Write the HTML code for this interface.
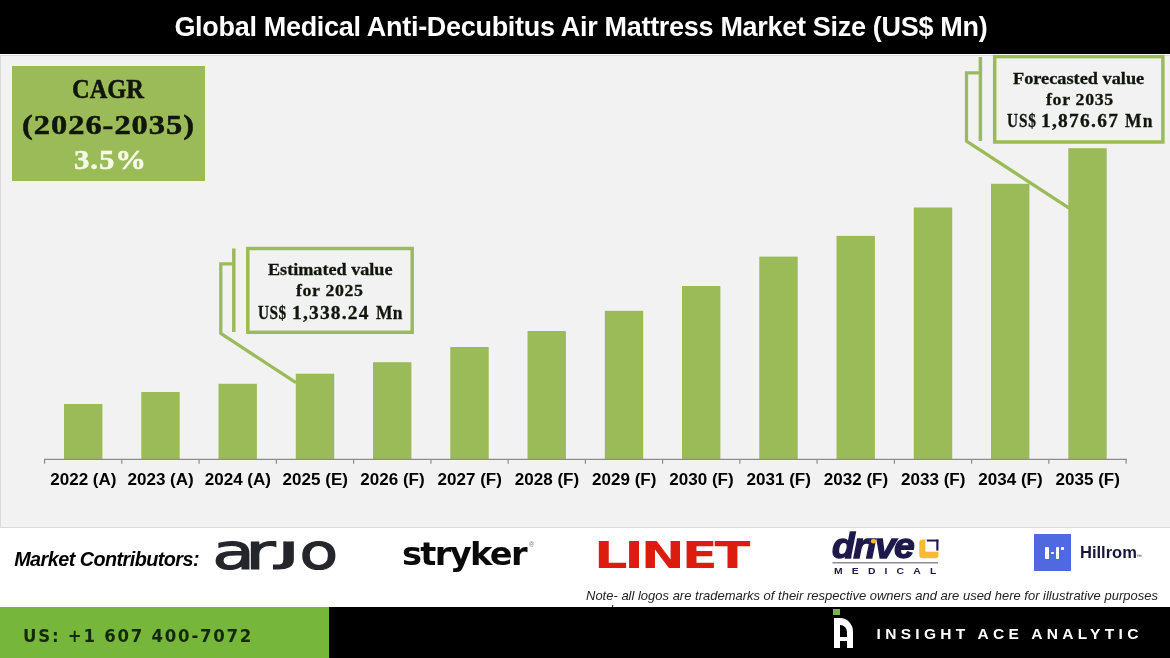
<!DOCTYPE html>
<html lang="en"><head><meta charset="utf-8"><title>Global Medical Anti-Decubitus Air Mattress Market Size (US$ Mn)</title>
<style>
html,body{margin:0;padding:0;background:#fff;}
body{width:1170px;height:658px;overflow:hidden;position:relative;font-family:"Liberation Sans",sans-serif;}
#page{position:absolute;left:0;top:0;width:1170px;height:658px;overflow:hidden;background:#fff;}
/* every box below is absolutely positioned against #page */
header,main,section,footer,figure{margin:0;padding:0;display:block;}
.t{position:absolute;white-space:nowrap;transform-origin:0 0;margin:0;padding:0;}
#hdr{position:absolute;left:0;top:0;width:1170px;height:53.6px;background:#000;}
#chartbg{position:absolute;left:0;top:55.2px;width:1175px;height:472.8px;background:#f2f2f2;border:1px solid #dadada;box-sizing:border-box;}
#plot,#logo-art{position:absolute;left:0;top:0;overflow:visible;}
#cagr{position:absolute;left:12px;top:66px;width:193px;height:115px;background:#9bbb59;}
#foot-g{position:absolute;left:0;top:607.4px;width:329px;height:51px;background:#76b63a;}
#foot-b{position:absolute;left:329px;top:607.4px;width:841px;height:51px;background:#000;}
#hill-mark{position:absolute;left:1034px;top:534px;width:37.2px;height:36.8px;background:#4f6ae0;}
#hill-mark i{position:absolute;background:#fff;border-radius:0.7px;}
#ia{position:absolute;left:833.5px;top:618px;width:7.3px;height:23.2px;border-style:solid;border-color:#fff;border-width:7.7px 6.1px 0 6.1px;border-top-right-radius:13px 14px;}
#ia-bar{position:absolute;left:838px;top:636.6px;width:10px;height:4.1px;background:#fff;}
#ia-dot{position:absolute;left:833.3px;top:609px;width:6.9px;height:5.9px;background:#79b548;}
#arjo{position:absolute;white-space:nowrap;color:#25262b;-webkit-text-stroke:1.2px #25262b;}
#arjo span{display:inline-block;transform-origin:0 0;}
#drivedot{position:absolute;left:863px;top:529px;}
</style></head><body><div id="page">

<header>
<div id="hdr"></div>
<div class="t" id="title" style="left:174.40px;top:11.60px;font-family:'Liberation Sans', sans-serif;font-size:27px;line-height:30px;color:#fff;font-weight:bold;letter-spacing:-0.304px;">Global Medical Anti-Decubitus Air Mattress Market Size (US$ Mn)</div>
</header>

<main>
<section id="chart">
<div id="chartbg"></div>
<svg id="plot" width="1170" height="658" viewBox="0 0 1170 658">
<g id="bars" fill="#9bbb59"><rect x="64.0" y="404.0" width="38.4" height="55.3"/><rect x="141.3" y="392.0" width="38.4" height="67.3"/><rect x="218.5" y="383.8" width="38.4" height="75.5"/><rect x="295.8" y="373.7" width="38.4" height="85.6"/><rect x="373.0" y="362.2" width="38.4" height="97.1"/><rect x="450.3" y="347.0" width="38.4" height="112.3"/><rect x="527.5" y="331.0" width="38.4" height="128.3"/><rect x="604.8" y="310.8" width="38.4" height="148.5"/><rect x="682.0" y="286.0" width="38.4" height="173.3"/><rect x="759.3" y="256.6" width="38.4" height="202.7"/><rect x="836.5" y="235.9" width="38.4" height="223.4"/><rect x="913.8" y="207.5" width="38.4" height="251.8"/><rect x="991.0" y="183.8" width="38.4" height="275.5"/><rect x="1068.3" y="148.2" width="38.4" height="311.1"/></g>
<g id="axis" stroke="#8c8c8c" stroke-width="1.2"><line x1="44" y1="459.3" x2="1127" y2="459.3"/><line x1="44.6" y1="459.3" x2="44.6" y2="463.8"/><line x1="121.8" y1="459.3" x2="121.8" y2="463.8"/><line x1="199.1" y1="459.3" x2="199.1" y2="463.8"/><line x1="276.4" y1="459.3" x2="276.4" y2="463.8"/><line x1="353.6" y1="459.3" x2="353.6" y2="463.8"/><line x1="430.9" y1="459.3" x2="430.9" y2="463.8"/><line x1="508.1" y1="459.3" x2="508.1" y2="463.8"/><line x1="585.4" y1="459.3" x2="585.4" y2="463.8"/><line x1="662.6" y1="459.3" x2="662.6" y2="463.8"/><line x1="739.9" y1="459.3" x2="739.9" y2="463.8"/><line x1="817.1" y1="459.3" x2="817.1" y2="463.8"/><line x1="894.4" y1="459.3" x2="894.4" y2="463.8"/><line x1="971.6" y1="459.3" x2="971.6" y2="463.8"/><line x1="1048.8" y1="459.3" x2="1048.8" y2="463.8"/><line x1="1126.1" y1="459.3" x2="1126.1" y2="463.8"/></g>
<g id="callout-2025" fill="none" stroke="#9bbb59" stroke-width="3.5">
<rect x="247.8" y="248.5" width="164.4" height="83.8" fill="#f2f2f2"/>
<line x1="233.8" y1="248.5" x2="233.8" y2="332"/>
<polyline stroke-width="3.3" points="232,263.8 220.8,263.8 220.8,333.4 296,382.6"/>
</g>
<g id="callout-2035" fill="none" stroke="#9bbb59" stroke-width="3.5">
<rect x="994.7" y="56.6" width="168.2" height="85.4" fill="#f2f2f2"/>
<line x1="980.4" y1="57" x2="980.4" y2="141"/>
<polyline stroke-width="3.3" points="979,72.8 966.5,72.8 966.5,141.2 1069.5,208.3"/>
</g>
</svg>
<div id="xlabels">
<div class="t" style="left:50.25px;top:469.91px;font-family:'Liberation Sans', sans-serif;font-size:17.05px;line-height:19px;color:#000;font-weight:bold;">2022 (A)</div>
<div class="t" style="left:127.50px;top:469.91px;font-family:'Liberation Sans', sans-serif;font-size:17.05px;line-height:19px;color:#000;font-weight:bold;">2023 (A)</div>
<div class="t" style="left:204.75px;top:469.91px;font-family:'Liberation Sans', sans-serif;font-size:17.05px;line-height:19px;color:#000;font-weight:bold;">2024 (A)</div>
<div class="t" style="left:282.60px;top:469.91px;font-family:'Liberation Sans', sans-serif;font-size:17.05px;line-height:19px;color:#000;font-weight:bold;">2025 (E)</div>
<div class="t" style="left:360.33px;top:469.91px;font-family:'Liberation Sans', sans-serif;font-size:17.05px;line-height:19px;color:#000;font-weight:bold;">2026 (F)</div>
<div class="t" style="left:437.58px;top:469.91px;font-family:'Liberation Sans', sans-serif;font-size:17.05px;line-height:19px;color:#000;font-weight:bold;">2027 (F)</div>
<div class="t" style="left:514.83px;top:469.91px;font-family:'Liberation Sans', sans-serif;font-size:17.05px;line-height:19px;color:#000;font-weight:bold;">2028 (F)</div>
<div class="t" style="left:592.08px;top:469.91px;font-family:'Liberation Sans', sans-serif;font-size:17.05px;line-height:19px;color:#000;font-weight:bold;">2029 (F)</div>
<div class="t" style="left:669.33px;top:469.91px;font-family:'Liberation Sans', sans-serif;font-size:17.05px;line-height:19px;color:#000;font-weight:bold;">2030 (F)</div>
<div class="t" style="left:746.58px;top:469.91px;font-family:'Liberation Sans', sans-serif;font-size:17.05px;line-height:19px;color:#000;font-weight:bold;">2031 (F)</div>
<div class="t" style="left:823.83px;top:469.91px;font-family:'Liberation Sans', sans-serif;font-size:17.05px;line-height:19px;color:#000;font-weight:bold;">2032 (F)</div>
<div class="t" style="left:901.08px;top:469.91px;font-family:'Liberation Sans', sans-serif;font-size:17.05px;line-height:19px;color:#000;font-weight:bold;">2033 (F)</div>
<div class="t" style="left:978.33px;top:469.91px;font-family:'Liberation Sans', sans-serif;font-size:17.05px;line-height:19px;color:#000;font-weight:bold;">2034 (F)</div>
<div class="t" style="left:1055.58px;top:469.91px;font-family:'Liberation Sans', sans-serif;font-size:17.05px;line-height:19px;color:#000;font-weight:bold;">2035 (F)</div>
</div>
<div id="cagr"></div>
<div class="t" style="left:71.73px;top:73.41px;font-family:'Liberation Serif', serif;font-size:28px;line-height:31px;color:#10160c;font-weight:bold;transform:scaleX(0.8727);-webkit-text-stroke:0.5px #10160c;">CAGR</div>
<div class="t" style="left:22.29px;top:108.50px;font-family:'Liberation Serif', serif;font-size:28px;line-height:31px;color:#10160c;font-weight:bold;transform:scaleX(1.1600);letter-spacing:0.833px;-webkit-text-stroke:0.5px #10160c;">(2026-2035)</div>
<div class="t" style="left:73.50px;top:144.21px;font-family:'Liberation Serif', serif;font-size:28px;line-height:31px;color:#f6fbe9;font-weight:bold;transform:scaleX(1.1000);letter-spacing:0.833px;-webkit-text-stroke:0.5px #f6fbe9;">3.5%</div>
<div id="estimate-2025">
<div class="t" style="left:268.24px;top:259.71px;font-family:'Liberation Serif', serif;font-size:17px;line-height:19px;color:#10160c;font-weight:bold;transform:scaleX(1.0672);-webkit-text-stroke:0.3px #10160c;">Estimated value</div>
<div class="t" style="left:296.40px;top:280.71px;font-family:'Liberation Serif', serif;font-size:17px;line-height:19px;color:#10160c;font-weight:bold;transform:scaleX(1.0500);letter-spacing:0.588px;-webkit-text-stroke:0.3px #10160c;">for 2025</div>
<div class="t" style="left:258.00px;top:302.50px;font-family:'Liberation Serif', serif;font-size:18px;line-height:20px;color:#10160c;font-weight:bold;-webkit-text-stroke:0.3px #10160c;"><span style="display:inline-block;transform-origin:0 0;transform:scaleX(0.850);letter-spacing:0.559px;">US$</span> <span style="display:inline-block;transform-origin:0 0;transform:scaleX(1.080);letter-spacing:1.104px;margin-left:-4.576px;">1,338.24</span> <span style="display:inline-block;transform-origin:0 0;transform:scaleX(0.970);letter-spacing:0.361px;margin-left:8.264px;">Mn</span></div>
</div>
<div id="forecast-2035">
<div class="t" style="left:1013.45px;top:68.50px;font-family:'Liberation Serif', serif;font-size:17px;line-height:19px;color:#10160c;font-weight:bold;transform:scaleX(1.0759);-webkit-text-stroke:0.3px #10160c;">Forecasted value</div>
<div class="t" style="left:1045.80px;top:89.71px;font-family:'Liberation Serif', serif;font-size:17px;line-height:19px;color:#10160c;font-weight:bold;transform:scaleX(1.0500);letter-spacing:0.635px;-webkit-text-stroke:0.3px #10160c;">for 2035</div>
<div class="t" style="left:1007.40px;top:111.30px;font-family:'Liberation Serif', serif;font-size:18px;line-height:20px;color:#10160c;font-weight:bold;-webkit-text-stroke:0.3px #10160c;"><span style="display:inline-block;transform-origin:0 0;transform:scaleX(0.850);letter-spacing:1.029px;">US$</span> <span style="display:inline-block;transform-origin:0 0;transform:scaleX(1.080);letter-spacing:1.171px;margin-left:-5.988px;">1,876.67</span> <span style="display:inline-block;transform-origin:0 0;transform:scaleX(0.970);letter-spacing:1.186px;margin-left:6.935px;">Mn</span></div>
</div>
</section>

<section id="contributors">
<div class="t" style="left:14.15px;top:547.50px;font-family:'Liberation Sans', sans-serif;font-size:19.8px;line-height:22px;color:#000;font-weight:bold;font-style:italic;letter-spacing:-0.536px;">Market Contributors:</div>
<svg id="logo-art" width="1170" height="658" viewBox="0 0 1170 658">
<rect x="919.3" y="539.6" width="19.2" height="18.7" rx="3.2" fill="#f4bc2e"/>
<rect x="925.4" y="539.4" width="13.4" height="12.3" fill="#fff"/>
<rect x="926.8" y="539.6" width="11.6" height="1.9" fill="#1d1a4b"/>
<rect x="936.3" y="539.6" width="2.1" height="11" fill="#1d1a4b"/>
<line x1="832.5" y1="562.8" x2="938" y2="562.8" stroke="#8d8c9c" stroke-width="1.4"/>
</svg>
<div id="arjo" style="left:215.00px;top:523.60px;font-family:'DejaVu Sans',sans-serif;font-size:49px;line-height:57px;height:57px;"><span style="transform:translate(-2.64px,0.00px) scaleX(1.421);">a</span><span style="transform:translate(0.03px,0.00px) scaleX(1.512);">r</span><span style="transform:translate(10.71px,-10.00px) scaleX(1.882);clip-path:inset(28.0px -40px -40px -40px);">j</span><span style="transform:translate(20.54px,0.00px) scaleX(1.288);">o</span></div>
<div class="t" style="left:402.29px;top:534.50px;font-family:'DejaVu Sans', sans-serif;font-size:32px;line-height:38px;color:#0a0a0a;font-weight:bold;transform:scaleX(1.0519);letter-spacing:-1.600px;">stryker</div>
<div class="t" style="left:529.00px;top:539.71px;font-family:'Liberation Sans', sans-serif;font-size:8px;line-height:9px;color:#777;transform:scaleX(0.9020);">®</div>
<div class="t" style="left:594.22px;top:533.60px;font-family:'DejaVu Sans', sans-serif;font-size:36.5px;line-height:43px;color:#dc1c0e;font-weight:bold;transform:scaleX(1.4424);letter-spacing:-2.200px;">LINET</div>
<div id="drive-medical">
<div class="t" style="left:832.45px;top:526.31px;font-family:'Liberation Sans', sans-serif;font-size:35px;line-height:39px;color:#1d1a4b;font-weight:bold;font-style:italic;transform:scaleX(1.0662);letter-spacing:-1.500px;-webkit-text-stroke:1.3px #1d1a4b;">drive</div>
<svg id="drivedot" width="20" height="16" viewBox="0 0 20 16"><rect x="3" y="0" width="15" height="8.6" fill="#fff"/><ellipse cx="10.6" cy="12.3" rx="2.7" ry="2.2" fill="#f4bc2e"/></svg>
<div class="t" style="left:833.75px;top:565.00px;font-family:'Liberation Sans', sans-serif;font-size:9.6px;line-height:11px;color:#1d1a4b;font-weight:bold;transform:scaleX(1.0800);letter-spacing:8.496px;">MEDICAL</div>
</div>
<div id="hillrom">
<div id="hill-mark"><i style="left:11.1px;top:12.5px;width:3.6px;height:12px"></i><i style="left:17.3px;top:17.5px;width:2.3px;height:2.3px"></i><i style="left:21.9px;top:12.5px;width:3.6px;height:12px"></i><i style="left:26.7px;top:13.1px;width:3px;height:3.4px"></i></div>
<div class="t" style="left:1080.17px;top:543.91px;font-family:'Liberation Sans', sans-serif;font-size:16px;line-height:17px;color:#17163a;font-weight:bold;transform:scaleX(1.0310);">Hillrom</div>
<div class="t" style="left:1136.10px;top:553.31px;font-family:'Liberation Sans', sans-serif;font-size:5px;line-height:6px;color:#17163a;transform:scaleX(1.1921);">™</div>
</div>
<div class="t" style="left:586.10px;top:588.00px;font-family:'Liberation Sans', sans-serif;font-size:13.5px;line-height:15px;color:#222;font-style:italic;transform:scaleX(0.9623);">Note- all logos are trademarks of their respective owners and are used here for illustrative purposes</div>
<div class="t" style="left:596.26px;top:601.81px;font-family:'Liberation Sans', sans-serif;font-size:13.5px;line-height:15px;color:#222;font-style:italic;transform:scaleX(0.9419);">only</div>
</section>
</main>

<footer>
<div id="foot-g"></div><div id="foot-b"></div>
<div class="t" style="left:23.20px;top:625.21px;font-family:'DejaVu Sans', sans-serif;font-size:18.4px;line-height:21px;color:#14290c;font-weight:bold;transform:scaleX(0.9000);letter-spacing:1.956px;">US: +1 607 400-7072</div>
<div id="ia-dot"></div><div id="ia"></div><div id="ia-bar"></div>
<div class="t" style="left:876.55px;top:625.41px;font-family:'Liberation Sans', sans-serif;font-size:15.5px;line-height:17px;color:#fff;font-weight:bold;letter-spacing:4.306px;">INSIGHT ACE ANALYTIC</div>
</footer>

</div></body></html>
